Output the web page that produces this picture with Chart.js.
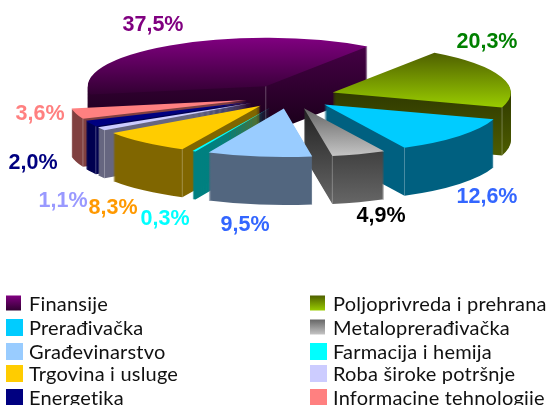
<!DOCTYPE html>
<html>
<head>
<meta charset="utf-8">
<style>
  html, body { margin: 0; padding: 0; background: #fff; }
  canvas { display: block; }
</style>
<script src="https://cdn.jsdelivr.net/npm/chart.js@4"></script>
</head>
<body>
<canvas id="pie3d" width="552" height="405"></canvas>
<script>
const categories = ['Finansije', 'Poljoprivreda i prehrana', 'Prerađivačka', 'Metaloprerađivačka', 'Građevinarstvo',
  'Farmacija i hemija', 'Trgovina i usluge', 'Roba široke potršnje', 'Energetika', 'Informacine tehnologije'];
const shares = [37.5, 20.3, 12.6, 4.9, 9.5, 0.3, 8.3, 1.1, 2.0, 3.6];

const topColors = [['#800080', '#320032'], ['#4f6000', '#99cc00'], ['#00ccff', '#00ccff'], ['#666666', '#c4c4c4'], ['#99ccff', '#99ccff'],
  ['#00ffff', '#00ffff'], ['#ffcc00', '#ffcc00'], ['#ccccff', '#ccccff'], ['#000080', '#000080'], ['#ff8080', '#ff8080']];
const sideColors = [['#4a004a', '#120012'], ['#1e2500', '#4d5c00'], ['#006080', '#006080'], ['#222222', '#666666'], ['#52667f', '#52667f'],
  ['#008080', '#008080'], ['#806600', '#806600'], ['#666680', '#666680'], ['#000050', '#000050'], ['#804040', '#804040']];
const labelColors = ['#800080', '#008000', '#3366ff', '#000000', '#3366ff', '#00ffff', '#ff9900', '#9999ff', '#000080', '#ff8080'];

// layout of the picture
const centerY = 96.5, flatten = 0.272, depth = 48, explode = 45;
const drawOrder = [0, 1, 9, 8, 7, 6, 5, 2, 3, 4];
const labelSpots = [[153, 25], [487, 42], [487, 197], [381, 216], [245, 225], [165, 219], [113, 208], [63, 201], [33, 163], [40, 114]];
const legendRows = [303, 327, 351, 373, 397];

function toUserY(chart, screenY) {
  return (screenY - centerY) / flatten + (chart.chartArea.top + chart.chartArea.bottom) / 2;
}

function sliceGradient(ctx, chart, arc, colors, extra) {
  const mid = (arc.startAngle + arc.endAngle) / 2;
  const ys = [centerY + Math.sin(mid) * explode * flatten];
  for (let i = 0; i <= 20; i++) {
    const a = arc.startAngle + (arc.endAngle - arc.startAngle) * i / 20;
    ys.push(ys[0] + Math.sin(a) * arc.outerRadius * flatten);
  }
  const top = Math.min(...ys), bottom = Math.max(...ys) + extra;
  const g = ctx.createLinearGradient(0, toUserY(chart, top), 0, toUserY(chart, bottom));
  g.addColorStop(0, colors[0]);
  g.addColorStop(1, colors[1]);
  return g;
}

const pie3d = {
  id: 'pie3d',
  beforeDatasetsDraw(chart) {
    const ctx = chart.ctx;
    const arcs = chart.getDatasetMeta(0).data;
    ctx.save();
    ctx.translate(0, centerY);
    ctx.scale(1, flatten);
    ctx.translate(0, -(chart.chartArea.top + chart.chartArea.bottom) / 2);
    drawOrder.forEach(i => {
      const arc = arcs[i];
      const baseX = arc.x, baseY = arc.y, baseOptions = arc.options;
      const mid = (arc.startAngle + arc.endAngle) / 2;
      arc.x = baseX + Math.cos(mid) * explode;
      arc.y = baseY + Math.sin(mid) * explode;
      const sliceY = arc.y;

      arc.options = { ...baseOptions, backgroundColor: sliceGradient(ctx, chart, arc, sideColors[i], depth) };
      for (let d = depth; d > 0; d--) {
        arc.y = sliceY + d / flatten;
        arc.draw(ctx);
      }

      // pale line down the corner that faces the viewer
      const toFront = a => Math.abs(Math.atan2(Math.sin(a - Math.PI / 2), Math.cos(a - Math.PI / 2)));
      const edgeAngle = toFront(arc.startAngle) < toFront(arc.endAngle) ? arc.startAngle : arc.endAngle;
      const spansBack = i === 0;
      const px = arc.x + (spansBack ? 0 : Math.cos(edgeAngle) * arc.outerRadius);
      const py = sliceY + (spansBack ? 0 : Math.sin(edgeAngle) * arc.outerRadius);
      if (i !== 4 && i !== 5) {
        ctx.beginPath();
        ctx.moveTo(px, py);
        ctx.lineTo(px, py + depth / flatten);
        ctx.strokeStyle = 'rgba(255,255,255,0.45)';
        ctx.lineWidth = 1;
        ctx.stroke();
      }

      arc.y = sliceY;
      arc.options = { ...baseOptions, backgroundColor: sliceGradient(ctx, chart, arc, topColors[i], 0) };
      arc.draw(ctx);

      arc.x = baseX;
      arc.y = baseY;
      arc.options = baseOptions;
    });
    ctx.restore();
    return false;
  },
  afterDraw(chart) {
    const ctx = chart.ctx;
    ctx.save();
    ctx.textBaseline = 'middle';
    ctx.textAlign = 'center';
    ctx.font = 'bold 21.5px "Liberation Sans", Arial, sans-serif';
    shares.forEach((v, i) => {
      ctx.fillStyle = labelColors[i];
      ctx.fillText(v.toFixed(1).replace('.', ',') + '%', labelSpots[i][0], labelSpots[i][1]);
    });

    // legend: two columns, read across
    ctx.textAlign = 'left';
    ctx.textBaseline = 'alphabetic';
    ctx.font = '20px Lato, "Open Sans", sans-serif';
    ctx.letterSpacing = '0.2px';
    categories.forEach((name, i) => {
      const col = i % 2, row = Math.floor(i / 2);
      const boxX = col ? 310 : 6;
      const mid = legendRows[row];
      const small = i === 0 || i === 1 || i === 3;
      const size = small ? 15 : 17;
      const g = ctx.createLinearGradient(0, mid - size / 2, 0, mid + size / 2);
      g.addColorStop(0, topColors[i][0]);
      g.addColorStop(1, topColors[i][1]);
      ctx.fillStyle = g;
      ctx.fillRect(boxX, mid - size / 2 + (small ? 0 : 0.5), size, size);
      ctx.fillStyle = '#111';
      ctx.fillText(name, col ? 333 : 29, mid + 8);
    });
    ctx.restore();
  }
};

new Chart(document.getElementById('pie3d'), {
  type: 'pie',
  data: {
    labels: categories,
    datasets: [{
      data: shares,
      backgroundColor: topColors.map(c => c[1]),
      borderWidth: 0
    }]
  },
  options: {
    responsive: false,
    animation: false,
    rotation: -100,
    radius: 178,
    layout: { padding: { left: 28 } },
    plugins: {
      legend: { display: false },
      tooltip: { enabled: false }
    }
  },
  plugins: [pie3d]
});
</script>
</body>
</html>
